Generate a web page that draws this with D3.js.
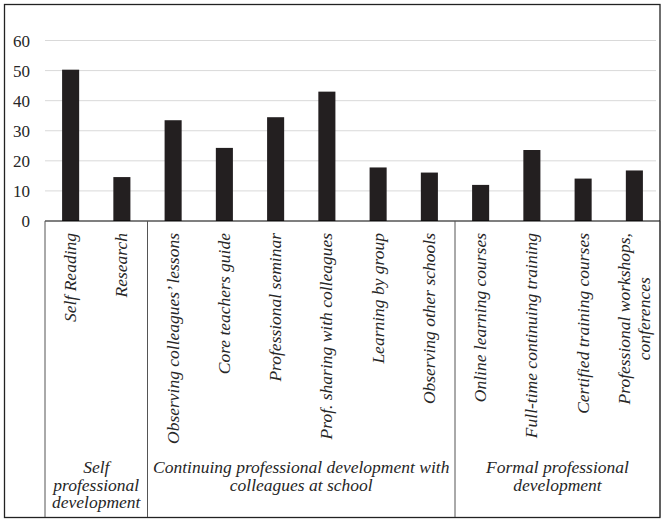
<!DOCTYPE html>
<html>
<head>
<meta charset="utf-8">
<script src="https://cdn.jsdelivr.net/npm/d3@7/dist/d3.min.js"></script>
<style>
  html, body { margin: 0; padding: 0; background: #fff; }
  svg { display: block; }
</style>
</head>
<body>
<svg id="chart" width="664" height="522" font-family="Liberation Serif"></svg>
<script>
// ---- data ----
const categories = [
  "Self Reading",
  "Research",
  "Observing colleagues’ lessons",
  "Core teachers guide",
  "Professional seminar",
  "Prof. sharing with colleagues",
  "Learning by group",
  "Observing other schools",
  "Online learning courses",
  "Full-time continuing training",
  "Certified training courses",
  "Professional workshops,\nconferences"
];
const values = [50.3, 14.6, 33.5, 24.3, 34.5, 43.0, 17.8, 16.1, 12.0, 23.6, 14.1, 16.8];
const groupNames = [
  "Self\nprofessional\ndevelopment",
  "Continuing professional development with\ncolleagues at school",
  "Formal professional\ndevelopment"
];
const groupSizes = [2, 6, 4];
const yTicks = [0, 10, 20, 30, 40, 50, 60];

(function () {
const FONT = "Liberation Serif";
const svg = d3.select("#chart");
const pLeft = 45, pRight = 660, pTop = 40.5, pBase = 221, pBottom = 517;

const x = d3.scaleBand().domain(categories).range([pLeft, pRight])
  .paddingInner(0.667).paddingOuter(0.3335);
const y = d3.scaleLinear().domain([0, 60]).range([pBase, pTop]);
const step = x.step();

// outer border
svg.append("rect").attr("x", 4.5).attr("y", 4.5).attr("width", 655.5).attr("height", 513)
  .attr("fill", "none").attr("stroke", "#222").attr("stroke-width", 1.3);

// gridlines
svg.append("g").selectAll("line").data(yTicks.filter(d => d > 0)).join("line")
  .attr("x1", pLeft).attr("x2", pRight - 4)
  .attr("y1", d => y(d)).attr("y2", d => y(d))
  .attr("stroke", "#d9d9d9").attr("stroke-width", 1);

// y axis labels
const yAxis = d3.axisLeft(y).tickValues(yTicks).tickSize(0).tickPadding(0);
const yg = svg.append("g").attr("transform", "translate(30,0)").call(yAxis)
  .attr("font-family", FONT).attr("font-size", 17);
yg.select(".domain").remove();
yg.selectAll("text").attr("font-family", FONT).attr("font-size", 17)
  .attr("fill", "#262626").attr("dy", "0.34em");

// bars
svg.append("g").selectAll("rect").data(values).join("rect")
  .attr("x", (d, i) => x(categories[i]))
  .attr("width", x.bandwidth())
  .attr("y", d => y(d))
  .attr("height", d => y(0) - y(d))
  .attr("fill", "#231f20");

// category labels
const labelTop = 233;
const lg = svg.append("g");
categories.forEach((c, i) => {
  const lines = c.split("\n");
  const cx = x(c) + x.bandwidth() / 2;
  const g = lg.append("g").attr("transform", `translate(${cx},${labelTop}) rotate(-90)`);
  const lh = 19.5;
  const texts = lines.map((ln, j) => g.append("text")
    .attr("font-family", FONT).attr("font-size", 17.5).attr("font-style", "italic")
    .attr("fill", "#262626")
    .attr("text-anchor", "middle")
    .attr("y", (j - (lines.length - 1) / 2) * lh)
    .attr("dy", "0.32em")
    .text(ln));
  const maxLen = d3.max(texts, t => t.node().getComputedTextLength());
  texts.forEach(t => t.attr("x", -maxLen / 2));
});

// axis line and separators
svg.append("line").attr("x1", pLeft).attr("x2", pRight).attr("y1", pBase).attr("y2", pBase)
  .attr("stroke", "#000").attr("stroke-width", 1.2);
let k = 0;
const bounds = [0];
groupSizes.forEach(s => { k += s; bounds.push(k); });
svg.append("g").selectAll("line").data(bounds).join("line")
  .attr("x1", d => pLeft + d * step).attr("x2", d => pLeft + d * step)
  .attr("y1", pBase).attr("y2", pBottom)
  .attr("stroke", "#555").attr("stroke-width", 1);

// group labels
const gg = svg.append("g");
groupNames.forEach((gname, gi) => {
  const cx = pLeft + (bounds[gi] + bounds[gi + 1]) / 2 * step;
  gname.split("\n").forEach((ln, j) => {
    gg.append("text").attr("x", cx).attr("y", 473 + j * 17.5)
      .attr("text-anchor", "middle")
      .attr("font-family", FONT).attr("font-size", 17.5).attr("font-style", "italic")
      .attr("fill", "#262626").text(ln);
  });
});
})();
</script>
</body>
</html>
